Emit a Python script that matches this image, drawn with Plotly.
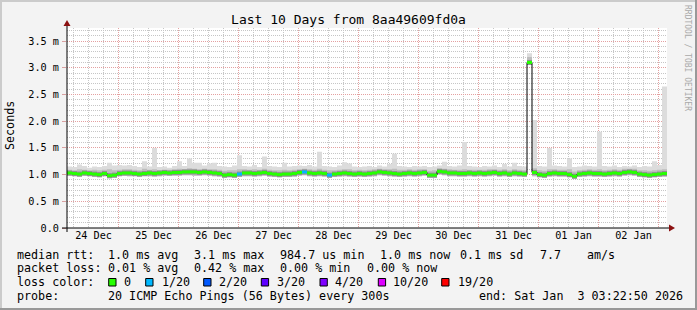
import plotly.graph_objects as go
from datetime import datetime, timedelta

# ---------------- data ----------------
START = "2025-12-24 03:22:50"
END = "2026-01-03 03:22:50"
STEP_HOURS = 2

median = [
    1.03, 1.02, 1.01, 1.03, 1.02, 1.01, 1.00, 1.02, 0.98, 0.99,
    1.02, 1.03, 1.03, 1.02, 1.01, 1.02, 1.03, 1.02, 1.03, 1.04, 1.03, 1.04,
    1.04, 1.05, 1.05, 1.05, 1.04, 1.05, 1.04, 1.03, 1.02, 0.99, 1.00, 0.99,
    1.01, 1.03, 1.03, 1.02, 1.03, 1.04, 1.02, 1.01, 1.00, 1.01, 1.01, 1.02,
    1.04, 1.05, 1.03, 1.02, 1.03, 1.02, 0.99, 1.01, 1.02, 1.03, 1.02, 1.01,
    1.02, 1.01, 1.02, 1.03, 1.05, 1.04, 1.03, 1.02, 1.01, 1.02, 1.03, 1.02,
    1.03, 1.04, 0.99, 0.99, 1.06, 1.05, 1.03, 1.03, 1.02, 1.02, 1.03, 1.02,
    1.03, 1.02, 1.03, 1.04, 1.02, 1.03, 1.01, 1.03, 1.02, 1.01, 3.10, 1.04,
    1.00, 0.99, 1.02, 1.03, 1.02, 1.02, 1.00, 0.97, 1.01, 1.02, 1.03, 1.02,
    1.02, 1.01, 1.02, 1.03, 1.02, 1.04, 1.05, 1.04, 1.01, 1.00, 0.99, 1.00,
    1.01, 1.02,
]
smoke_lo = [
    0.98, 0.97, 0.96, 0.98, 0.97, 0.96, 0.95, 0.97, 0.93, 0.94,
    0.97, 0.98, 0.97, 0.97, 0.96, 0.97, 0.97, 0.96, 0.97, 0.98, 0.98, 0.98,
    0.98, 0.99, 0.99, 0.98, 0.98, 0.99, 0.98, 0.97, 0.96, 0.94, 0.95, 0.94,
    0.96, 0.97, 0.97, 0.96, 0.97, 0.98, 0.96, 0.96, 0.95, 0.96, 0.96, 0.96,
    0.98, 0.99, 0.97, 0.96, 0.97, 0.96, 0.94, 0.96, 0.96, 0.97, 0.96, 0.96,
    0.96, 0.96, 0.96, 0.97, 0.99, 0.98, 0.97, 0.96, 0.96, 0.96, 0.97, 0.96,
    0.97, 0.98, 0.94, 0.94, 1.00, 0.99, 0.97, 0.97, 0.96, 0.96, 0.97, 0.96,
    0.97, 0.96, 0.97, 0.98, 0.96, 0.97, 0.96, 0.97, 0.96, 0.96, 3.05, 0.97,
    0.95, 0.94, 0.96, 0.97, 0.96, 0.96, 0.95, 0.92, 0.96, 0.96, 0.97, 0.96,
    0.96, 0.96, 0.96, 0.97, 0.96, 0.98, 0.99, 0.98, 0.96, 0.95, 0.94, 0.95,
    0.96, 0.96,
]
smoke_q = [
    1.09, 1.08, 1.10, 1.09, 1.08, 1.09, 1.08, 1.09, 1.10, 1.08,
    1.09, 1.10, 1.10, 1.09, 1.08, 1.11, 1.09, 1.10, 1.08, 1.09, 1.09, 1.10,
    1.11, 1.10, 1.12, 1.11, 1.10, 1.11, 1.10, 1.10, 1.09, 1.07, 1.08, 1.08,
    1.10, 1.10, 1.09, 1.10, 1.09, 1.11, 1.09, 1.08, 1.08, 1.09, 1.08, 1.09,
    1.10, 1.11, 1.10, 1.09, 1.11, 1.09, 1.08, 1.08, 1.09, 1.10, 1.10, 1.08,
    1.09, 1.08, 1.09, 1.10, 1.11, 1.10, 1.10, 1.11, 1.09, 1.09, 1.10, 1.09,
    1.10, 1.10, 1.07, 1.08, 1.12, 1.11, 1.10, 1.09, 1.09, 1.10, 1.09, 1.09,
    1.09, 1.09, 1.10, 1.10, 1.09, 1.10, 1.08, 1.10, 1.09, 1.08, 3.20, 1.12,
    1.08, 1.07, 1.10, 1.10, 1.09, 1.09, 1.10, 1.06, 1.08, 1.09, 1.10, 1.09,
    1.10, 1.08, 1.09, 1.10, 1.09, 1.11, 1.11, 1.11, 1.08, 1.08, 1.07, 1.08,
    1.09, 1.10,
]
smoke_hi = [
    1.15, 1.14, 1.19, 1.16, 1.13, 1.15, 1.14, 1.16, 1.22, 1.17,
    1.18, 1.17, 1.18, 1.16, 1.14, 1.25, 1.15, 1.50, 1.14, 1.15, 1.13, 1.16,
    1.25, 1.16, 1.30, 1.22, 1.22, 1.17, 1.21, 1.22, 1.16, 1.15, 1.14, 1.17,
    1.36, 1.16, 1.15, 1.18, 1.14, 1.34, 1.16, 1.15, 1.14, 1.22, 1.15, 1.16,
    1.17, 1.16, 1.18, 1.15, 1.43, 1.16, 1.15, 1.14, 1.17, 1.23, 1.21, 1.15,
    1.14, 1.15, 1.16, 1.14, 1.17, 1.15, 1.20, 1.39, 1.16, 1.15, 1.14, 1.16,
    1.15, 1.16, 1.14, 1.15, 1.17, 1.24, 1.16, 1.15, 1.17, 1.61, 1.16, 1.15,
    1.14, 1.16, 1.15, 1.17, 1.14, 1.20, 1.15, 1.22, 1.16, 1.15, 3.27, 2.02,
    1.16, 1.15, 1.50, 1.17, 1.16, 1.15, 1.30, 1.14, 1.15, 1.17, 1.16, 1.15,
    1.80, 1.16, 1.15, 1.17, 1.14, 1.16, 1.15, 1.17, 1.14, 1.16, 1.15, 1.25,
    1.18, 2.65,
]
loss = [
    0, 0, 0, 0, 0, 0, 0, 0, 0, 0,
    0, 0, 0, 0, 0, 0, 0, 0, 0, 0, 0, 0,
    0, 0, 0, 0, 0, 0, 0, 0, 0, 0, 0, 0,
    1, 0, 0, 0, 0, 0, 0, 0, 0, 0, 0, 0,
    0, 1, 0, 0, 0, 0, 1, 0, 0, 0, 0, 0,
    0, 0, 0, 0, 0, 0, 0, 0, 0, 0, 0, 0,
    0, 0, 0, 0, 0, 0, 0, 0, 0, 0, 0, 0,
    0, 0, 0, 0, 0, 0, 0, 0, 0, 0, 0, 0,
    0, 0, 0, 0, 0, 0, 0, 0, 0, 0, 0, 0,
    0, 0, 0, 0, 0, 0, 0, 0, 0, 0, 0, 0,
    0, 0,
]
loss_levels = [0, 1, 2, 3, 4, 10, 19]
loss_labels = ["0", "1/20", "2/20", "3/20", "4/20", "10/20", "19/20"]
loss_colors = ["#26ff00", "#00b8ff", "#0059ff", "#5e00ff", "#7e00ff", "#dd00ff", "#ff0000"]

y_tickvals = [0, 0.5, 1.0, 1.5, 2.0, 2.5, 3.0, 3.5]
y_ticktext = ["0.0", "0.5 m", "1.0 m", "1.5 m", "2.0 m", "2.5 m", "3.0 m", "3.5 m"]
y_minor = [0.1, 0.2, 0.3, 0.4, 0.6, 0.7, 0.8, 0.9, 1.1, 1.2, 1.3, 1.4, 1.6, 1.7, 1.8, 1.9,
           2.1, 2.2, 2.3, 2.4, 2.6, 2.7, 2.8, 2.9, 3.1, 3.2, 3.3, 3.4, 3.6, 3.7]

title = "Last 10 Days from 8aa49609fd0a"
row1 = [("median rtt:", 16), ("1.0 ms avg", 107), ("3.1 ms max", 193), ("984.7 us min", 279),
        ("1.0 ms now", 379), ("0.1 ms sd", 458.5), ("7.7", 539), ("am/s", 586)]
row2 = [("packet loss:", 16), ("0.01 % avg", 107), ("0.42 % max", 193), ("0.00 % min", 279),
        ("0.00 % now", 365.5)]
row4 = [("probe:", 16), ("20 ICMP Echo Pings (56 Bytes) every 300s", 107),
        ("end: Sat Jan  3 03:22:50 2026", 478)]
box_x = [108.7, 145.7, 203.7, 261.3, 320, 378.3, 441.7]
lbl_x = [123, 160.5, 218, 275.7, 334, 391.5, 456.5]

# ---------------- build ----------------
t0 = datetime.strptime(START, "%Y-%m-%d %H:%M:%S")
n = len(median)
times = [t0 + timedelta(hours=STEP_HOURS * i) for i in range(n + 1)]
day0 = datetime(2025, 12, 24)
x_minor = [day0 + timedelta(hours=6 * k) for k in range(1, 41) if k % 4 != 0]

def ext(a):
    return list(a) + [a[-1]]

def segs(values, mask=None):
    xs, ys = [], []
    for i, v in enumerate(values):
        if mask is not None and not mask[i]:
            continue
        xs += [times[i], times[i + 1], None]
        ys += [v, v, None]
    return xs, ys

fig = go.Figure()
fig.add_trace(go.Scatter(x=times, y=ext(smoke_lo), mode="lines", line=dict(width=0, shape="hv"),
                         hoverinfo="skip"))
fig.add_trace(go.Scatter(x=times, y=ext(smoke_hi), mode="lines", line=dict(width=0, shape="hv"),
                         fill="tonexty", fillcolor="#dcdcdc", hoverinfo="skip"))
fig.add_trace(go.Scatter(x=times, y=ext(smoke_lo), mode="lines", line=dict(width=0, shape="hv"),
                         hoverinfo="skip"))
fig.add_trace(go.Scatter(x=times, y=ext(smoke_q), mode="lines", line=dict(width=0, shape="hv"),
                         fill="tonexty", fillcolor="#bdbdbd", hoverinfo="skip"))
cx, cy = segs(median)
fig.add_trace(go.Scatter(x=cx, y=cy, mode="lines", line=dict(width=5, color="#909090"),
                         hoverinfo="skip"))
fig.add_trace(go.Scatter(x=times, y=ext(median), mode="lines", xaxis="x2",
                         line=dict(width=1, color="#000000", shape="hv"), hoverinfo="skip"))
for lv, col in zip(loss_levels, loss_colors):
    mask = [l == lv for l in loss]
    if not any(mask):
        continue
    sx, sy = segs(median, mask)
    fig.add_trace(go.Scatter(x=sx, y=sy, mode="lines", xaxis="x2",
                             line=dict(width=3, color=col), hoverinfo="skip"))

L, R, T, B = 67, 30, 28, 82
W, H = 697, 310
PW, PH = W - L - R, H - T - B

def PX(px):
    return (px - L) / PW

def PY(py):
    return (T + PH - py) / PH

MG = "#e4a0a0"
GG = "#c6c6c6"
DASH = "1px,1px"
mono = "DejaVu Sans Mono"

fig.update_layout(
    width=W, height=H, margin=dict(l=L, r=R, t=T, b=B),
    paper_bgcolor="#f3f3f3", plot_bgcolor="#ffffff", showlegend=False,
    font=dict(family=mono, size=11.7, color="#000000"),
    title=dict(text=title, x=0.5, xref="container", xanchor="center",
               y=1 - 19 / H, yref="container", yanchor="middle",
               font=dict(family=mono, size=13, color="#000000")),
    xaxis=dict(type="date", range=[START, END], showticklabels=False, ticks="",
               showgrid=False, zeroline=False, showline=False),
    yaxis=dict(range=[0, 3.745], showticklabels=False, ticks="",
               showgrid=False, zeroline=False, showline=False),
    xaxis2=dict(type="date", range=[START, END], overlaying="x", anchor="y", side="bottom",
                tick0="2025-12-24 14:00", dtick=86400000, tickformat="%d %b",
                showgrid=False, ticks="", zeroline=False, showline=False,
                tickfont=dict(family=mono, size=10.2, color="#000000")),
    xaxis3=dict(type="date", range=[START, END], overlaying="x", anchor="y", side="bottom",
                tickmode="array", tickvals=x_minor, showticklabels=False, ticks="",
                showgrid=True, gridcolor=GG, griddash=DASH, gridwidth=1,
                zeroline=False, showline=False),
    xaxis4=dict(type="date", range=[START, END], overlaying="x", anchor="y", side="bottom",
                tick0="2025-12-24", dtick=86400000, showticklabels=False, ticks="",
                showgrid=True, gridcolor=MG, griddash=DASH, gridwidth=1,
                zeroline=False, showline=False),
    yaxis2=dict(range=[0, 3.745], overlaying="y", anchor="x", side="left",
                tickmode="array", tickvals=y_minor, showticklabels=False, ticks="",
                showgrid=True, gridcolor=GG, griddash=DASH, gridwidth=1,
                zeroline=False, showline=False),
    yaxis3=dict(range=[0, 3.745], overlaying="y", anchor="x", side="left",
                tickvals=y_tickvals, ticktext=y_ticktext,
                showgrid=True, gridcolor=MG, griddash=DASH, gridwidth=1,
                zeroline=False, showline=False, ticks="outside", ticklen=4, tickcolor="#d9a0a0",
                ticklabelstandoff=1,
                tickfont=dict(family=mono, size=10.2, color="#000000")),
)
fig.add_trace(go.Scatter(x=times, y=ext(smoke_lo), mode="lines", xaxis="x3", yaxis="y2",
                         line=dict(width=0, shape="hv"), hoverinfo="skip", opacity=0))
fig.add_trace(go.Scatter(x=times, y=ext(smoke_lo), mode="lines", xaxis="x4", yaxis="y3",
                         line=dict(width=0, shape="hv"), hoverinfo="skip", opacity=0))

shapes = []
shapes.append(dict(type="rect", xref="paper", yref="paper", x0=PX(0), x1=PX(W), y0=PY(0), y1=PY(2),
                   fillcolor="#cbcbcb", line=dict(width=0), layer="above"))
shapes.append(dict(type="rect", xref="paper", yref="paper", x0=PX(0), x1=PX(2), y0=PY(0), y1=PY(H),
                   fillcolor="#cbcbcb", line=dict(width=0), layer="above"))
shapes.append(dict(type="rect", xref="paper", yref="paper", x0=PX(0), x1=PX(W), y0=PY(H - 2), y1=PY(H),
                   fillcolor="#999999", line=dict(width=0), layer="above"))
shapes.append(dict(type="rect", xref="paper", yref="paper", x0=PX(W - 2), x1=PX(W), y0=PY(0), y1=PY(H),
                   fillcolor="#999999", line=dict(width=0), layer="above"))
shapes.append(dict(type="line", xref="paper", yref="paper", x0=PX(62), x1=PX(670), y0=PY(228), y1=PY(228),
                   line=dict(color="#000000", width=1), layer="above"))
shapes.append(dict(type="line", xref="paper", yref="paper", x0=PX(67), x1=PX(67), y0=PY(232), y1=PY(25),
                   line=dict(color="#000000", width=1), layer="above"))
shapes.append(dict(type="path", xref="paper", yref="paper",
                   path=f"M {PX(675)},{PY(228)} L {PX(669)},{PY(224.5)} L {PX(669)},{PY(231.5)} Z",
                   fillcolor="#8b1010", line=dict(width=0), layer="above"))
shapes.append(dict(type="path", xref="paper", yref="paper",
                   path=f"M {PX(67)},{PY(20)} L {PX(63.5)},{PY(26)} L {PX(70.5)},{PY(26)} Z",
                   fillcolor="#8b1010", line=dict(width=0), layer="above"))
for bx, col in zip(box_x, loss_colors):
    shapes.append(dict(type="rect", xref="paper", yref="paper", x0=PX(bx), x1=PX(bx + 7.3),
                       y0=PY(286), y1=PY(278.5), fillcolor=col,
                       line=dict(color="#000000", width=1), layer="above"))
fig.update_layout(shapes=shapes)

ann = []
def txt(s, px, py, size=11.7, color="#000000", angle=0, xanchor="left"):
    ann.append(dict(text=s, x=PX(px), y=PY(py), xref="paper", yref="paper", showarrow=False,
                    xanchor=xanchor, yanchor="middle", textangle=angle, borderpad=0,
                    font=dict(family=mono, size=size, color=color)))

for s, px in row1:
    txt(s, px, 254.5)
for s, px in row2:
    txt(s, px, 268)
txt("loss color:", 16, 282)
for s, px in zip(loss_labels, lbl_x):
    txt(s, px, 282)
for s, px in row4:
    txt(s, px, 295.5)
txt("Seconds", 10, 126, angle=-90, xanchor="center")
txt("RRDTOOL / TOBI OETIKER", 688, 58, size=8, color="#a9a9a9", angle=90, xanchor="center")
fig.update_layout(annotations=ann)

fig.write_html("out.html")
